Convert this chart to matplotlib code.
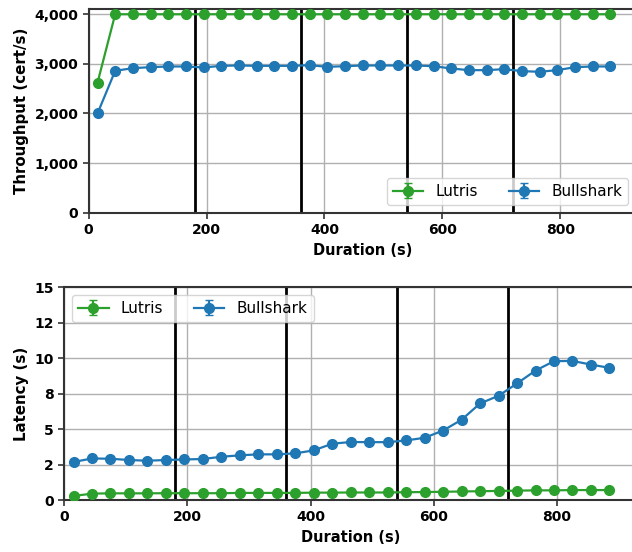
import numpy as np
import matplotlib
matplotlib.use("Agg")
import matplotlib.pyplot as plt
from matplotlib.ticker import FuncFormatter, MultipleLocator

# sample times (s) and phase boundaries
duration = [15, 45, 75, 105, 135, 165, 195, 225, 255, 285,
            315, 345, 375, 405, 435, 465, 495, 525, 555, 585,
            615, 645, 675, 705, 735, 765, 795, 825, 855, 885]
phases = [180, 360, 540, 720]

# throughput (cert/s)
lutris_tput = [2620, 4000, 4000, 4000, 4000, 4000, 4000, 4000, 4000, 4000,
               4000, 4000, 4000, 4000, 4000, 4000, 4000, 4000, 4000, 4000,
               4000, 4000, 4000, 4000, 4000, 4000, 4000, 4000, 4000, 4000]
bullshark_tput = [2000, 2860, 2913, 2933, 2947, 2947, 2927, 2960, 2967, 2960,
                  2960, 2960, 2973, 2940, 2953, 2967, 2967, 2967, 2967, 2953,
                  2907, 2873, 2873, 2893, 2853, 2840, 2873, 2933, 2947, 2947]

# latency (s)
lutris_lat = [0.28, 0.45, 0.47, 0.47, 0.47, 0.48, 0.48, 0.48, 0.48, 0.50,
              0.50, 0.50, 0.50, 0.52, 0.52, 0.53, 0.53, 0.53, 0.55, 0.56,
              0.58, 0.60, 0.62, 0.64, 0.66, 0.68, 0.68, 0.70, 0.70, 0.70]
bullshark_lat = [2.68, 2.93, 2.91, 2.82, 2.77, 2.82, 2.86, 2.89, 3.05, 3.15,
                 3.22, 3.22, 3.29, 3.50, 3.97, 4.09, 4.08, 4.08, 4.20, 4.39,
                 4.90, 5.66, 6.81, 7.35, 8.22, 9.13, 9.79, 9.81, 9.55, 9.32]

GREEN = "#2ca02c"
BLUE = "#1f77b4"

fig = plt.figure(figsize=(6.32, 5.52), dpi=100)
ax1 = fig.add_axes([0.1403, 0.6147, 0.866, 0.3685])
ax2 = fig.add_axes([0.1017, 0.0942, 0.905, 0.3853])

zeros = np.zeros(len(duration))


def style(ax):
    ax.grid(True, color="#b0b0b0", linewidth=1.0)
    ax.set_axisbelow(True)
    for s in ["left", "bottom", "top"]:
        ax.spines[s].set_color("#333333")
        ax.spines[s].set_linewidth(1.5)
    ax.spines["right"].set_visible(False)
    ax.tick_params(colors="#333333", labelcolor="black", width=1.2, length=4,
                   labelsize=10)
    for lab in ax.get_xticklabels() + ax.get_yticklabels():
        lab.set_fontweight("bold")
    for p in phases:
        ax.axvline(p, color="black", linewidth=2, zorder=1.5)


# Step 1: throughput
ax1.errorbar(duration, lutris_tput, yerr=zeros, color=GREEN, marker="o",
             markersize=7, linewidth=1.6, capsize=3, label="Lutris", zorder=3)
ax1.errorbar(duration, bullshark_tput, yerr=zeros, color=BLUE, marker="o",
             markersize=7, linewidth=1.6, capsize=3, label="Bullshark", zorder=3)
ax1.set_xlim(0, 928.5)
ax1.set_ylim(0, 4100)
ax1.yaxis.set_major_locator(MultipleLocator(1000))
ax1.yaxis.set_major_formatter(FuncFormatter(lambda v, _: f"{v:,.0f}"))
style(ax1)
ax1.set_xlabel("Duration (s)", fontweight="bold", fontsize=10.5)
ax1.set_ylabel("Throughput (cert/s)", fontweight="bold", fontsize=10.8)
ax1.legend(loc="lower right", ncol=2, fontsize=11)

# Step 2: latency
ax2.errorbar(duration, lutris_lat, yerr=zeros, color=GREEN, marker="o",
             markersize=7, linewidth=1.6, capsize=3, label="Lutris", zorder=3)
ax2.errorbar(duration, bullshark_lat, yerr=zeros, color=BLUE, marker="o",
             markersize=7, linewidth=1.6, capsize=3, label="Bullshark", zorder=3)
ax2.set_xlim(0, 928.5)
ax2.set_ylim(0, 15)
ax2.yaxis.set_major_locator(MultipleLocator(2.5))
ax2.yaxis.set_major_formatter(FuncFormatter(lambda v, _: f"{v:.0f}"))
style(ax2)
ax2.set_xlabel("Duration (s)", fontweight="bold", fontsize=10.5)
ax2.set_ylabel("Latency (s)", fontweight="bold", fontsize=10.8)
ax2.legend(loc="upper left", ncol=2, fontsize=11)

fig.savefig("out.png", dpi=100)
